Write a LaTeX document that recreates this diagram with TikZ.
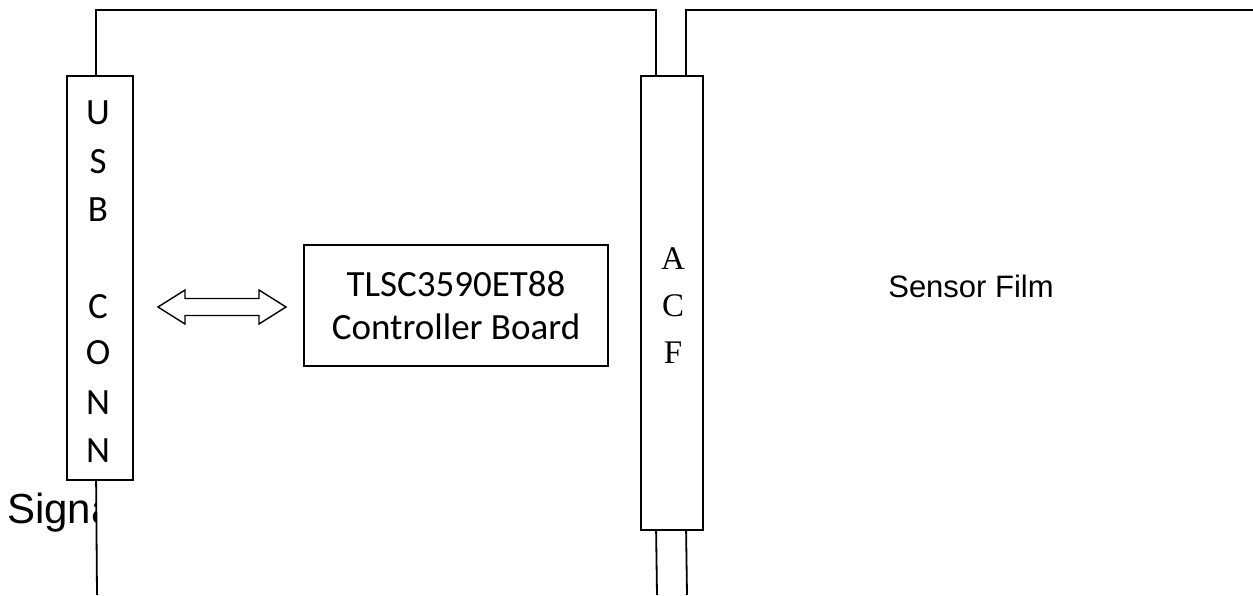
\documentclass[tikz,border=0pt]{standalone}
\usepackage{fontspec}
\newfontfamily\calfont{Carlito}
\newfontfamily\serfont{Liberation Serif}
\newfontfamily\arfont{Liberation Sans}
\usetikzlibrary{calc}
\begin{document}
\begin{tikzpicture}[x=1pt,y=-1pt,
  wire/.style={line width=1.8pt,black},
  boxstyle/.style={draw,line width=1.8pt,inner sep=0pt,fill=white},
  usbletter/.style={font=\calfont\fontsize{37}{42}\selectfont,inner sep=0pt,anchor=center},
  acfletter/.style={font=\serfont\fontsize{33}{38}\selectfont,inner sep=0pt,anchor=center}]
\useasboundingbox (0,0) rectangle (1253,595);
% boxes
\node[boxstyle,minimum width=66pt,minimum height=404pt] (usb) at (100,278) {};
\node[boxstyle,minimum width=62pt,minimum height=454pt] (acf) at (672,303) {};
\node[boxstyle,minimum width=304pt,minimum height=121pt,align=center,
  font=\calfont\fontsize{37}{43}\selectfont] (ctrl) at (456,305.5)
  {TLSC3590ET88\\Controller Board};
% coordinates
\coordinate (usbtop) at ($(usb.north west)+(30,0)$);
\coordinate (usbbot) at ($(usb.south west)+(30,0)$);
\coordinate (acftl) at ($(acf.north west)+(16,0)$);
\coordinate (acftr) at ($(acf.north west)+(46,0)$);
\coordinate (acfbl) at ($(acf.south west)+(16,0)$);
\coordinate (acfbr) at ($(acf.south west)+(46,0)$);
\coordinate (topy) at (0,10);
\coordinate (rightend) at (1253,10);
\coordinate (usbend) at (97,595);
\coordinate (acfendl) at (657,595);
\coordinate (acfendr) at (687,595);
% wires
\draw[wire] (usbtop) |- (topy -| acftl) -- (acftl);
\draw[wire] (acftr) |- (rightend);
\draw[wire] (acfbl) -- (acfendl);
\draw[wire] (acfbr) -- (acfendr);
% USB letters
\node[usbletter] (u1) at (98,113) {U};
\node[usbletter] (u2) at (98,162) {S};
\node[usbletter] (u3) at (98,210) {B};
\node[usbletter] (u4) at (98,307) {C};
\node[usbletter] (u5) at (98,353) {O};
\node[usbletter] (u6) at (98,403) {N};
\node[usbletter] (u7) at (98,451) {N};
% ACF letters
\node[acfletter] (a1) at (673,259) {A};
\node[acfletter] (a2) at (673,306) {C};
\node[acfletter] (a3) at (673,353) {F};
% double arrow between USB and controller
\draw[line width=1.4pt,fill=white] (158,307) -- (185,290) -- (185,298.5) -- (259,298.5)
  -- (259,290) -- (286,307) -- (259,324) -- (259,315.5) -- (185,315.5) -- (185,324) -- cycle;
% sensor film
\node[font=\arfont\fontsize{31}{36}\selectfont,inner sep=0pt] (sf) at (971,286) {Sensor Film};
% signal text clipped
\begin{scope}
\clip (0,470) rectangle (96.3,560);
\node[font=\arfont\fontsize{42}{48}\selectfont,inner sep=0pt,anchor=base west] (sig) at (7,523) {Signal};
\end{scope}
\draw[wire] (usbbot) -- (usbend);
\end{tikzpicture}
\end{document}
